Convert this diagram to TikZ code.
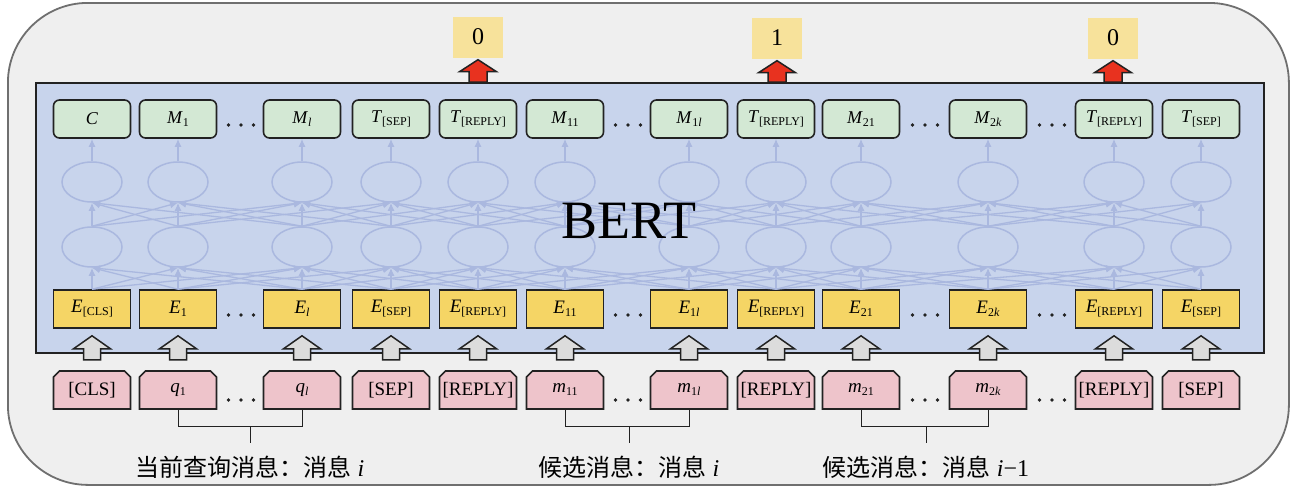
\documentclass[tikz,border=0pt]{standalone}
\usepackage{fontspec}
\setmainfont{Liberation Serif}
\newfontfamily\cjk{Noto Sans CJK SC}
\usetikzlibrary{calc,shapes.geometric,arrows.meta}
\definecolor{framefill}{HTML}{EFEFEF}
\definecolor{framedraw}{HTML}{6F6F6F}
\definecolor{bertfill}{HTML}{C8D4EC}
\definecolor{topfill}{HTML}{D3E8D4}
\definecolor{embfill}{HTML}{F5D565}
\definecolor{tokfill}{HTML}{EEC4CB}
\definecolor{outfill}{HTML}{F7E29B}
\definecolor{netc}{RGB}{170,184,223}
\definecolor{grayarr}{HTML}{DCDCDC}
\definecolor{redarr}{HTML}{E8321F}
\definecolor{edge}{HTML}{222222}
\newcommand{\lo}[1]{\raisebox{-3pt}{\fontsize{12}{12}\selectfont #1}}
\newcommand{\fatarrow}[6]{%
  \draw[#1] ($(#2)+(-#4,0)$) -- ($(#3)+(-#4,#6)$) -- ($(#3)+(-#5,#6)$) -- (#3)
    -- ($(#3)+(#5,#6)$) -- ($(#3)+(#4,#6)$) -- ($(#2)+(#4,0)$) -- cycle;}
\begin{document}
\begin{tikzpicture}[x=1pt,y=-1pt,
  topbox/.style={draw=edge, fill=topfill, line width=1.6pt, rounded corners=6pt,
    minimum width=77pt, minimum height=38pt, inner sep=0pt, font=\fontsize{18}{18}\selectfont},
  embbox/.style={draw=edge, fill=embfill, line width=1.6pt,
    minimum width=77pt, minimum height=38pt, inner sep=0pt, font=\fontsize{19}{19}\selectfont},
  tokbox/.style={minimum width=77pt, minimum height=38pt, inner sep=0pt,
    font=\fontsize{19}{19}\selectfont},
  tokshape/.style={draw=edge, fill=tokfill, line width=1.6pt, line join=miter},
  outbox/.style={fill=outfill, minimum width=50pt, minimum height=41pt, inner sep=0pt,
    font=\fontsize{24}{24}\selectfont},
  neuron/.style={ellipse, draw=netc, line width=1.5pt, minimum width=60pt,
    minimum height=40pt, inner sep=0pt},
  netline/.style={draw=netc, line width=1.3pt, -{Latex[length=8pt,width=7pt]}},
  grayfat/.style={draw=edge, fill=grayarr, line width=1.5pt, line join=miter},
  redfat/.style={draw=edge, fill=redarr, line width=1.5pt, line join=miter},
  brk/.style={draw=edge, line width=1pt},
  lab/.style={inner sep=0pt, font=\fontsize{24}{24}\selectfont}]
\useasboundingbox (0,0) rectangle (1300,490);
\node[draw=framedraw, fill=framefill, line width=1.8pt, rounded corners=80pt,
  minimum width=1281pt, minimum height=482pt, inner sep=0pt, anchor=north west] (frame) at (7,2) {};
\node[draw=edge, fill=bertfill, line width=2.2pt, minimum width=1228pt,
  minimum height=270pt, inner sep=0pt, anchor=north west] (bert) at (35,82) {};
% neurons
\foreach \k/\x in {1/92,2/178,3/302,4/391,5/478,6/565,7/689,8/776,9/861,10/988,11/1114,12/1201}{
  \node[neuron] (a\k) at (\x,247) {};
  \node[neuron] (b\k) at (\x,182) {};
  \fill[tokshape] (\x-38.5,409) -- (\x-38.5,377) -- (\x-32.5,371) -- (\x+32.5,371)
    -- (\x+38.5,377) -- (\x+38.5,409) -- cycle;
}
% boxes
\foreach \k/\x/\tl/\el/\il in {
  1/92/{\textit{C}}/{\textit{E}\lo{[CLS]}}/{[CLS]},
  2/178/{\textit{M}\lo{1}}/{\textit{E}\lo{1}}/{\textit{q}\lo{1}},
  3/302/{\textit{M}\lo{\textit{l}}}/{\textit{E}\lo{\textit{l}}}/{\textit{q}\lo{\textit{l}}},
  4/391/{\textit{T}\lo{[SEP]}}/{\textit{E}\lo{[SEP]}}/{[SEP]},
  5/478/{\textit{T}\lo{[REPLY]}}/{\textit{E}\lo{[REPLY]}}/{[REPLY]},
  6/565/{\textit{M}\lo{11}}/{\textit{E}\lo{11}}/{\textit{m}\lo{11}},
  7/689/{\textit{M}\lo{1\textit{l}}}/{\textit{E}\lo{1\textit{l}}}/{\textit{m}\lo{1\textit{l}}},
  8/776/{\textit{T}\lo{[REPLY]}}/{\textit{E}\lo{[REPLY]}}/{[REPLY]},
  9/861/{\textit{M}\lo{21}}/{\textit{E}\lo{21}}/{\textit{m}\lo{21}},
  10/988/{\textit{M}\lo{2\textit{k}}}/{\textit{E}\lo{2\textit{k}}}/{\textit{m}\lo{2\textit{k}}},
  11/1114/{\textit{T}\lo{[REPLY]}}/{\textit{E}\lo{[REPLY]}}/{[REPLY]},
  12/1201/{\textit{T}\lo{[SEP]}}/{\textit{E}\lo{[SEP]}}/{[SEP]}}{
  \node[topbox] (t\k) at (\x,119) {\tl};
  \node[embbox] (e\k) at (\x,309) {\el};
  \node[tokbox] (i\k) at (\x,390) {\il};
}
% network connections
\foreach \k in {1,...,12}{
  \draw[netline] (b\k.north) -- (t\k.south);
  \draw[netline] (a\k.north) -- (b\k.south);
  \draw[netline] (e\k.north) -- (a\k.south);
  \foreach \d in {-2,-1,1,2}{
    \pgfmathtruncatemacro{\j}{\k+\d}
    \ifnum\j>0 \ifnum\j<13
      \draw[netline] (e\k.north) -- (a\j.south);
      \draw[netline] (a\k.north) -- (b\j.south);
    \fi\fi
  }
}
\node[font=\fontsize{54}{54}\selectfont, inner sep=0pt] (berttxt) at (629,221) {BERT};
% dots
\foreach \x in {241,628,925,1052}{
  \foreach \y in {125,315,400}{
    \fill[edge] (\x-12.5,\y) circle (1.9);
    \fill[edge] (\x,\y) circle (1.9);
    \fill[edge] (\x+12.5,\y) circle (1.9);
  }
}
% gray input arrows
\foreach \k in {1,...,12}{
  \coordinate (gt\k) at ($(i\k.north)+(0,-11)$);
  \coordinate (gh\k) at ($(e\k.south)+(0,7)$);
  \fatarrow{grayfat}{gt\k}{gh\k}{8.5}{18.5}{13}
}
% outputs
\node[outbox] (o1) at (478,37) {0};
\node[outbox] (o2) at (777,38) {1};
\node[outbox] (o3) at (1113,38) {0};
\foreach \k in {1,2,3}{
  \coordinate (rt\k) at (o\k.south |- bert.north);
  \coordinate (rh\k) at ($(o\k.south)+(0,2)$);
  \fatarrow{redfat}{rt\k}{rh\k}{9}{18.5}{12}
}
% labels
\node[lab] (lab1) at (250,467) {{\cjk 当前查询消息：消息} \textit{i}};
\node[lab] (lab2) at (629,467) {{\cjk 候选消息：消息} \textit{i}};
\node[lab] (lab3) at (926,467) {{\cjk 候选消息：消息} \textit{i}−1};
\coordinate (br1) at ($(i2.south)+(0,17)$);
\coordinate (br2) at ($(i6.south)+(0,17)$);
\coordinate (br3) at ($(i9.south)+(0,17)$);
\draw[brk] (i2.south) -- (br1) -| (i3.south);
\draw[brk] (i6.south) -- (br2) -| (i7.south);
\draw[brk] (i9.south) -- (br3) -| (i10.south);
\draw[brk] (lab1 |- br1) -- ++(0,17);
\draw[brk] (lab2 |- br2) -- ++(0,17);
\draw[brk] (lab3 |- br3) -- ++(0,17);
\end{tikzpicture}
\end{document}
